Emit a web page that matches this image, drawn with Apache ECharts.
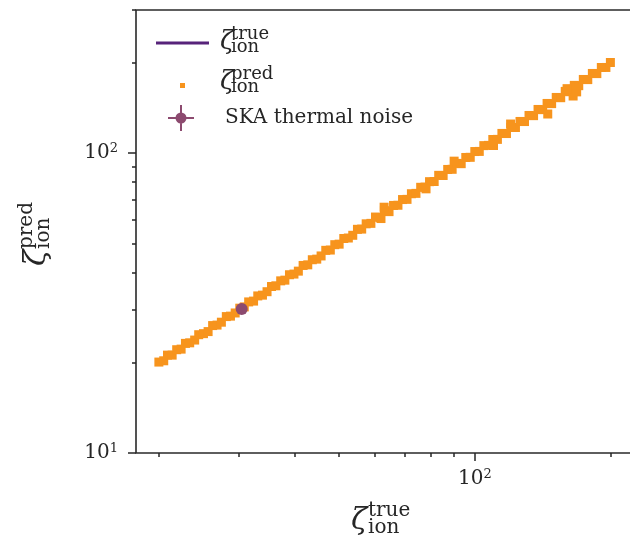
<!DOCTYPE html>
<html>
<head>
<meta charset="utf-8">
<script src="https://cdn.jsdelivr.net/npm/echarts@6/dist/echarts.min.js"></script>
<style>
  html, body { margin: 0; padding: 0; background: #fff; }
  #chart { width: 630px; height: 545px; }
</style>
</head>
<body>
<div id="chart"></div>
<script>
// axis ranges (log-log)
var xMin = 17.8, xMax = 225;
var yMin = 10, yMax = 300;

var xMajorTicks = [100];
var xMinorTicks = [20, 30, 40, 50, 60, 70, 80, 90, 200];
var yMajorTicks = [10, 100];
var yMinorTicks = [20, 30, 40, 50, 60, 70, 80, 90, 200, 300];

// zeta_ion^true line
var trueX = [20, 200];
var trueY = [20, 200];

// zeta_ion^pred points
var predX = [20.0, 20.5, 20.9, 21.4, 21.9, 22.4, 22.9, 23.4, 24.0, 24.5, 25.1, 25.7, 26.3, 26.9, 27.5,
  28.2, 28.8, 29.5, 30.2, 30.9, 31.6, 32.4, 33.1, 33.9, 34.7, 35.5, 36.3, 37.2, 38.0, 38.9, 39.8,
  40.7, 41.7, 42.7, 43.7, 44.7, 45.7, 46.8, 47.9, 49.0, 50.1, 51.3, 52.5, 53.7, 55.0, 56.2, 57.5,
  58.9, 60.3, 61.7, 63.1, 64.6, 66.1, 67.6, 69.2, 70.8, 72.4, 74.1, 75.9, 77.6, 79.4, 81.3, 83.2,
  85.1, 87.1, 89.1, 91.2, 93.3, 95.5, 97.7, 100, 102.3, 104.7, 107.2, 109.6, 112.2, 114.8, 117.5,
  120.2, 123.0, 125.9, 128.8, 131.8, 134.9, 138.0, 141.3, 144.5, 147.9, 151.4, 154.9, 158.5, 162.2,
  166.0, 169.8, 173.8, 177.8, 182.0, 186.2, 190.5, 195.0, 199.5,
  145, 165, 168, 160, 63, 62, 120, 110, 90, 78];
var predY = [20.1, 20.3, 21.2, 21.2, 22.1, 22.2, 23.2, 23.3, 23.8, 24.8, 25.0, 25.4, 26.6, 26.7, 27.3,
  28.5, 28.6, 29.3, 30.4, 30.7, 31.9, 32.1, 33.4, 33.6, 34.5, 35.9, 36.1, 37.5, 37.7, 39.3, 39.5,
  40.4, 42.2, 42.4, 44.1, 44.3, 45.4, 47.4, 47.5, 49.5, 49.7, 51.9, 52.1, 53.2, 55.7, 55.8, 58.1,
  58.3, 61.2, 61.0, 64.3, 63.8, 66.9, 67.0, 70.0, 70.1, 73.2, 73.4, 76.9, 77.0, 80.3, 80.4, 84.3,
  84.2, 88.2, 88.3, 92.4, 92.2, 96.7, 96.8, 101.2, 101.3, 105.9, 106.1, 111.0, 111.1, 116.3, 116.2,
  121.8, 121.7, 127.5, 127.4, 133.5, 133.3, 139.8, 139.6, 146.4, 146.2, 153.3, 153.0, 160.6, 160.2,
  168.2, 167.8, 176.0, 175.8, 184.3, 184.1, 192.9, 193.0, 200.5,
  135, 155, 160, 164, 66, 60.5, 125, 106, 94, 76];

// SKA thermal noise point
var skaX = [30.5];
var skaY = [30.2];

var FONT = 'DejaVu Serif';
var INK = '#262626';
var PURPLE = '#57237a';
var ORANGE = '#f7941d';
var MAUVE = '#8c4a6f';

var log10 = function (v) { return Math.log(v) / Math.LN10; };
var expLabel = function (v) { return '{b|10}{s|' + Math.round(v) + '}'; };
var labelRich = {
  b: { fontFamily: FONT, fontSize: 20, color: INK, lineHeight: 22 },
  s: { fontFamily: FONT, fontSize: 13, color: INK, lineHeight: 13, verticalAlign: 'top' }
};

// zeta with stacked super/subscript as plain text elements
function zeta(x, y, sup, rot, st) {
  return {
    type: 'group', x: x, y: y, rotation: rot, silent: true,
    children: [
      { type: 'text', x: 0, y: st.zY, style: { text: '\u03b6', fontFamily: FONT, fontStyle: 'italic', fontSize: st.zSize, fill: INK, verticalAlign: 'middle' } },
      { type: 'text', x: st.dx, y: st.supY, style: { text: sup, fontFamily: FONT, fontSize: st.sSize, fill: INK, verticalAlign: 'middle' } },
      { type: 'text', x: st.dx, y: st.subY, style: { text: 'ion', fontFamily: FONT, fontSize: st.sSize, fill: INK, verticalAlign: 'middle' } }
    ]
  };
}
var titleSt = { zSize: 30, sSize: 20, dx: 17, zY: 21, supY: 11, subY: 28 };
var legendSt = { zSize: 26, sSize: 18, dx: 11, zY: 0, supY: -8, subY: 5 };

var lineIcon = 'path://M0 0H53V3H0Z';
var skaIcon = 'path://M0 12H26V14H0Z M12 0H14V26H12Z M7.5 13A5.5 5.5 0 1 1 18.5 13A5.5 5.5 0 1 1 7.5 13Z';

var chart = echarts.init(document.getElementById('chart'));

var tickAxis = function (dim, lo, hi, ticks, len, labels) {
  return {
    type: 'value', position: dim === 'x' ? 'bottom' : 'left',
    min: log10(lo), max: log10(hi),
    axisLine: { show: false, onZero: false },
    splitLine: { show: false },
    axisTick: { show: true, customValues: ticks.map(log10), length: len, lineStyle: { color: INK, width: 1.5 } },
    axisLabel: labels ? {
      show: true, customValues: ticks.map(log10), margin: dim === 'x' ? 15 : 18,
      formatter: expLabel, rich: labelRich
    } : { show: false }
  };
};

var option = {
  animation: false,
  backgroundColor: '#fff',
  grid: {
    left: 136, top: 10, width: 498, bottom: 92,
    show: true, borderColor: '#2a2a2a', borderWidth: 1.6, backgroundColor: 'transparent',
    outerBoundsMode: 'none'
  },
  xAxis: [
    { type: 'log', position: 'bottom', min: xMin, max: xMax, show: false },
    tickAxis('x', xMin, xMax, xMajorTicks, 8, true),
    tickAxis('x', xMin, xMax, xMinorTicks, 4, false)
  ],
  yAxis: [
    { type: 'log', position: 'left', min: yMin, max: yMax, show: false },
    tickAxis('y', yMin, yMax, yMajorTicks, 8, true),
    tickAxis('y', yMin, yMax, yMinorTicks, 4, false)
  ],
  legend: [
    { data: [{ name: 'true', icon: lineIcon, itemStyle: { color: PURPLE } }], left: 156, top: 36,
      itemWidth: 53, itemHeight: 14, padding: 0,
      selectedMode: false, formatter: function () { return ''; } },
    { data: ['pred'], left: 180, top: 83, itemWidth: 5, itemHeight: 5, icon: 'rect', padding: 0,
      selectedMode: false, formatter: function () { return ''; } },
    { data: ['SKA thermal noise'], left: 168, top: 105, itemWidth: 26, itemHeight: 26, icon: skaIcon,
      padding: 0, selectedMode: false,
      textStyle: { fontFamily: FONT, fontSize: 20, color: INK, padding: [0, 0, 0, 26] } }
  ],
  graphic: { elements: [
    zeta(351, 500, 'true', 0, titleSt),
    zeta(16, 266, 'pred', Math.PI / 2, titleSt),
    zeta(220, 42, 'true', 0, legendSt),
    zeta(220, 82, 'pred', 0, legendSt)
  ] },
  series: [
    {
      name: 'true', type: 'line', xAxisIndex: 0, yAxisIndex: 0, z: 2,
      symbol: 'none', lineStyle: { color: PURPLE, width: 3 }, itemStyle: { color: PURPLE },
      data: trueX.map(function (x, i) { return [x, trueY[i]]; })
    },
    {
      name: 'pred', type: 'scatter', xAxisIndex: 0, yAxisIndex: 0, z: 3,
      symbol: 'rect', symbolSize: 9, itemStyle: { color: ORANGE, opacity: 1 },
      data: predX.map(function (x, i) { return [x, predY[i]]; })
    },
    {
      name: 'SKA thermal noise', type: 'scatter', xAxisIndex: 0, yAxisIndex: 0, z: 4,
      symbol: 'circle', symbolSize: 12, itemStyle: { color: MAUVE, opacity: 1 },
      data: skaX.map(function (x, i) { return [x, skaY[i]]; })
    }
  ]
};

chart.setOption(option);
</script>
</body>
</html>
